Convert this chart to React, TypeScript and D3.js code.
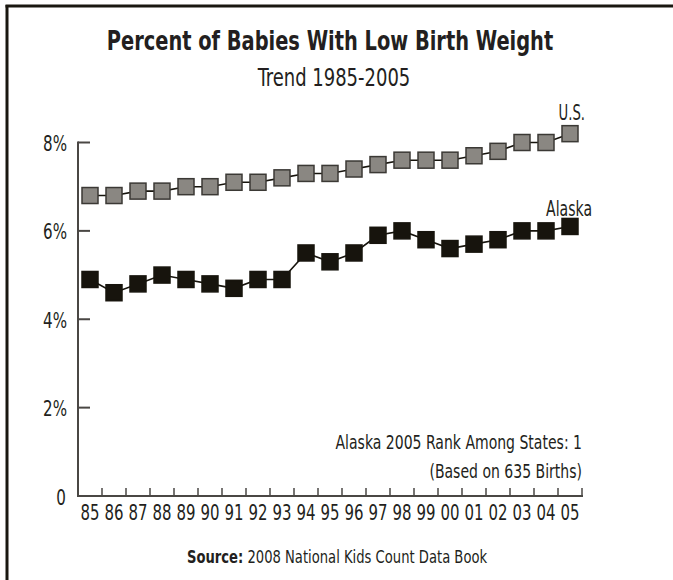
import * as d3 from "d3";
import type { ReactNode } from "react";

const years = ["85", "86", "87", "88", "89", "90", "91", "92", "93", "94", "95", "96", "97", "98", "99", "00", "01", "02", "03", "04", "05"];
const usValues = [6.8, 6.8, 6.9, 6.9, 7.0, 7.0, 7.1, 7.1, 7.2, 7.3, 7.3, 7.4, 7.5, 7.6, 7.6, 7.6, 7.7, 7.8, 8.0, 8.0, 8.2];
const alaskaValues = [4.9, 4.6, 4.8, 5.0, 4.9, 4.8, 4.7, 4.9, 4.9, 5.5, 5.3, 5.5, 5.9, 6.0, 5.8, 5.6, 5.7, 5.8, 6.0, 6.0, 6.1];
const yTicks = [0, 2, 4, 6, 8];

const FONT = "'DejaVu Sans Condensed', 'DejaVu Sans', sans-serif";
const INK = "#231f20";

// condensed text: squeeze horizontally to mimic the narrow face of the original
function CText({ x, y, sx = 0.8, size, anchor = "start", bold = false, dy, children }: {
  x: number; y: number; sx?: number; size: number; anchor?: string; bold?: boolean; dy?: string; children: ReactNode;
}) {
  return (
    <text transform={`translate(${x},${y}) scale(${sx},1)`} textAnchor={anchor} fontSize={size}
      fontWeight={bold ? "bold" : "normal"} dy={dy} fill={INK}>
      {children}
    </text>
  );
}

function App() {
  const width = 673;
  const height = 580;
  const left = 78;
  const right = 582;
  const top = 142.5;
  const bottom = 496;

  const x = d3.scaleBand<string>().domain(years).range([left, right]);
  const y = d3.scaleLinear().domain([0, 8]).range([bottom, top]);
  const cx = (yr: string) => (x(yr) ?? 0) + x.bandwidth() / 2;

  const line = d3.line<number>()
    .x((_, i) => cx(years[i]))
    .y(v => y(v));

  const series = [
    { name: "U.S.", values: usValues, fill: "#8a8782", stroke: "#3b3935" },
    { name: "Alaska", values: alaskaValues, fill: "#17140d", stroke: "#17140d" },
  ];
  const box = 16;

  return (
    <svg width={width} height={height} style={{ position: "absolute", left: 0, top: 0, background: "white" }} fontFamily={FONT}>
      {/* frame */}
      <line x1={7} x2={7} y1={5} y2={height} stroke="#1a1710" strokeWidth={3} />
      <line x1={5.5} x2={width} y1={6} y2={6} stroke="#1a1710" strokeWidth={3} />

      {/* titles */}
      <CText x={330} y={50} sx={0.83} size={26} anchor="middle" bold>Percent of Babies With Low Birth Weight</CText>
      <CText x={334} y={86} sx={0.8} size={25} anchor="middle">Trend 1985-2005</CText>

      {/* y axis */}
      <line x1={left} x2={left} y1={top - 1} y2={bottom + 1} stroke="#4a4744" strokeWidth={2} />
      {yTicks.map(t => (
        <g key={t}>
          {t > 0 && <line x1={left} x2={left + 12} y1={y(t)} y2={y(t)} stroke="#4a4744" strokeWidth={2} />}
          <CText x={t > 0 ? 67 : 61} y={y(t) + 1} dy="0.36em" sx={0.8} size={21} anchor={t > 0 ? "end" : "middle"}>
            {t > 0 ? `${t}%` : "0"}
          </CText>
        </g>
      ))}

      {/* x axis */}
      <line x1={left - 1} x2={right + 1} y1={bottom} y2={bottom} stroke="#4a4744" strokeWidth={2} />
      {years.map(yr => (
        <g key={yr}>
          <line x1={(x(yr) ?? 0) + x.bandwidth()} x2={(x(yr) ?? 0) + x.bandwidth()} y1={bottom} y2={bottom - 8} stroke="#4a4744" strokeWidth={1.5} />
          <CText x={cx(yr)} y={520} sx={0.81} size={20.5} anchor="middle">{yr}</CText>
        </g>
      ))}

      {/* series */}
      {series.map(s => (
        <g key={s.name}>
          <path d={line(s.values) ?? ""} fill="none" stroke="#17140d" strokeWidth={1.6} />
          {s.values.map((v, i) => (
            <rect key={i} x={cx(years[i]) - box / 2} y={y(v) - box / 2} width={box} height={box}
              fill={s.fill} stroke={s.stroke} strokeWidth={1.5} />
          ))}
        </g>
      ))}

      {/* series labels */}
      <CText x={585} y={120} sx={0.7} size={21} anchor="end">U.S.</CText>
      <CText x={592} y={216} sx={0.71} size={22} anchor="end">Alaska</CText>

      {/* note */}
      <CText x={582} y={449} sx={0.78} size={20} anchor="end">Alaska 2005 Rank Among States: 1</CText>
      <CText x={582} y={478} sx={0.78} size={20} anchor="end">(Based on 635 Births)</CText>

      {/* source */}
      <CText x={337} y={563} sx={0.86} size={17} anchor="middle">
        <tspan fontWeight="bold">Source:</tspan> 2008 National Kids Count Data Book
      </CText>
    </svg>
  );
}

export default App;
